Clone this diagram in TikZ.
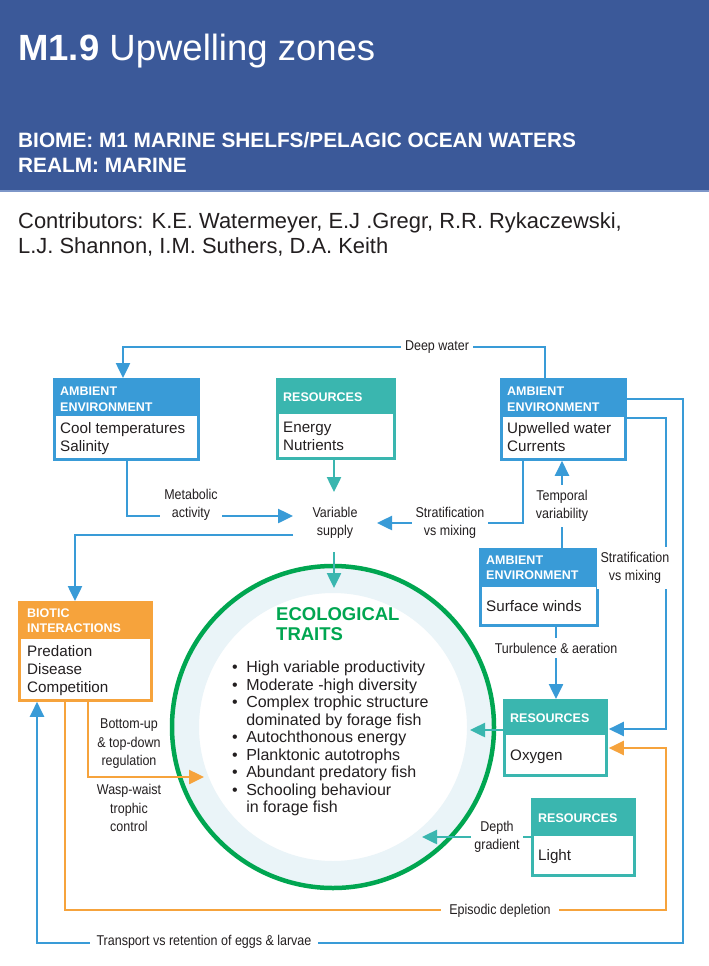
\documentclass[tikz,border=0pt]{standalone}
\usepackage{fontspec}
\setmainfont{Liberation Sans}
\newfontfamily\cond[FakeStretch=0.88]{Liberation Sans}
\usetikzlibrary{arrows.meta,calc}
\definecolor{hdr}{RGB}{59,89,153}
\definecolor{hdrline}{RGB}{125,150,200}
\definecolor{cblue}{RGB}{57,155,215}
\definecolor{cteal}{RGB}{58,182,175}
\definecolor{corange}{RGB}{246,163,60}
\definecolor{cgreen}{RGB}{0,166,81}
\definecolor{cband}{RGB}{234,244,248}
\definecolor{ink}{RGB}{35,31,32}
\newcommand\mkbox[7]{%
  \fill[#2] (#3,#4) rectangle (#5,#7);
  \node[boxframe,draw=#2,minimum width=#5-#3,minimum height=#6-#4] (#1) at (#3,#4) {};}
\begin{document}
\begin{tikzpicture}[x=1pt,y=-1pt,
  conn/.style={line width=2.5pt,line join=miter},
  arr/.style={conn,-{Triangle[length=15pt,width=14pt]}},
  boxframe/.style={line width=2.8pt,inner sep=0pt,anchor=north west},
  hd/.style={anchor=base west,inner sep=0pt,text=white,font=\bfseries\fontsize{12.5}{16}\selectfont},
  bd/.style={anchor=base west,inner sep=0pt,text=ink,font=\fontsize{15.2}{18}\selectfont},
  lab/.style={font=\cond\fontsize{14.2}{18}\selectfont,text=ink,align=center,fill=white,inner xsep=4pt,inner ysep=5pt},
  labnf/.style={font=\cond\fontsize{14.2}{18.5}\selectfont,text=ink,align=center,inner sep=0pt},
]
\useasboundingbox (0,0) rectangle (709,966);
\fill[white] (0,0) rectangle (709,966);

% ---------- header ----------
\fill[hdr] (0,0) rectangle (709,191);
\draw[hdrline,line width=1.5pt] (0,191) -- (709,191);
\node[anchor=base west,inner sep=0pt,text=white,font=\fontsize{36.5}{40}\selectfont] (title) at (18,60) {\textbf{M1.9} Upwelling zones};
\node[anchor=base west,inner sep=0pt,text=white,font=\bfseries\fontsize{20.8}{24}\selectfont] (biome) at (18,147) {BIOME: M1 MARINE SHELFS/PELAGIC OCEAN WATERS};
\node[anchor=base west,inner sep=0pt,text=white,font=\bfseries\fontsize{20.8}{24}\selectfont] (realm) at (18,172) {REALM: MARINE};
\node[anchor=base west,inner sep=0pt,text=ink,font=\fontsize{21.9}{25}\selectfont] (contrib1) at (18,228) {Contributors: K.E. Watermeyer, E.J .Gregr, R.R. Rykaczewski,};
\node[anchor=base west,inner sep=0pt,text=ink,font=\fontsize{21.9}{25}\selectfont] (contrib2) at (18,253) {L.J. Shannon, I.M. Suthers, D.A. Keith};

% ---------- central circle ----------
\fill[cband,even odd rule] (333,727) circle (159) (333,727) circle (134);
\node[circle,draw=cgreen,line width=4.5pt,minimum size=322pt,inner sep=0pt] (eco) at (333,727) {};
\node[anchor=base west,inner sep=0pt,text=cgreen,font=\bfseries\fontsize{18.5}{20}\selectfont] (ecot1) at (276,620) {ECOLOGICAL};
\node[anchor=base west,inner sep=0pt,text=cgreen,font=\bfseries\fontsize{18.5}{20}\selectfont] (ecot2) at (276,640) {TRAITS};
\node[anchor=north west,inner sep=0pt,text=ink,font=\fontsize{16}{17.5}\selectfont] (traits) at (232,660.5) {%
\begin{tabular}{@{}l@{\hspace{8.5pt}}l@{}}
\textbullet & High variable productivity\\
\textbullet & Moderate -high diversity\\
\textbullet & Complex trophic structure\\
 & dominated by forage fish\\
\textbullet & Autochthonous energy\\
\textbullet & Planktonic autotrophs\\
\textbullet & Abundant predatory fish\\
\textbullet & Schooling behaviour\\
 & in forage fish
\end{tabular}};
\coordinate (ecoN) at (334,588);
\coordinate (ecoW) at (204,777);
\coordinate (ecoE) at (470,730);
\coordinate (ecoSE) at (422,837);

% ---------- boxes ----------
\mkbox{ae1}{cblue}{53}{378}{197}{458}{416}
\node[hd] (ae1h1) at (60,395) {AMBIENT};
\node[hd] (ae1h2) at (60,411) {ENVIRONMENT};
\node[bd] (ae1b1) at (60,433) {Cool temperatures};
\node[bd] (ae1b2) at (60,451) {Salinity};

\mkbox{r1}{cteal}{276}{378}{393}{457}{414}
\node[hd] (r1h) at (283,401.5) {RESOURCES};
\node[bd] (r1b1) at (283,432) {Energy};
\node[bd] (r1b2) at (283,450) {Nutrients};

\mkbox{ae2}{cblue}{500}{378}{624}{458}{417}
\node[hd] (ae2h1) at (507,395) {AMBIENT};
\node[hd] (ae2h2) at (507,411) {ENVIRONMENT};
\node[bd] (ae2b1) at (507,433) {Upwelled water};
\node[bd] (ae2b2) at (507,451) {Currents};

\mkbox{ae3}{cblue}{479}{548}{596}{624}{587}
\node[hd] (ae3h1) at (486,564.5) {AMBIENT};
\node[hd] (ae3h2) at (486,579.5) {ENVIRONMENT};
\node[bd] (ae3b1) at (486,611) {Surface winds};

\mkbox{bi}{corange}{18}{601}{150}{699}{639}
\node[hd] (bih1) at (27,617.5) {BIOTIC};
\node[hd] (bih2) at (27,632.5) {INTERACTIONS};
\node[bd] (bib1) at (27,656) {Predation};
\node[bd] (bib2) at (27,674) {Disease};
\node[bd] (bib3) at (27,692.5) {Competition};

\mkbox{r2}{cteal}{503}{699}{605}{774}{735}
\node[hd] (r2h) at (510,722.5) {RESOURCES};
\node[bd] (r2b) at (510,760) {Oxygen};

\mkbox{r3}{cteal}{531}{798}{633}{874}{836}
\node[hd] (r3h) at (538,822.5) {RESOURCES};
\node[bd] (r3b) at (538,860) {Light};

% ---------- variable supply ----------
\node[labnf,font=\cond\fontsize{14.2}{18}\selectfont] (vs) at (335,523) {Variable\\supply};
\coordinate (vsW) at (293,516);
\coordinate (vsE) at (377,523);
\coordinate (vsN) at (334,492);
\coordinate (vsS) at (334,552);
\coordinate (vsSW) at (293,535);

% ---------- connectors ----------
% deep water
\draw[arr,cblue] ($(ae2.north west)+(45,0)$) |- (123,347) -- ($(ae1.north west)+(70,0)$);
\node[lab] (dw) at (437,347) {Deep water};
% metabolic activity
\draw[arr,cblue] ($(ae1.south west)+(74,0)$) |- (vsW);
\node[lab] (meta) at (191,505) {Metabolic\\activity};
% energy -> variable supply
\draw[arr,cteal] ($(r1.south west)+(58,0)$) -- (vsN);
% stratification (left)
\draw[arr,cblue] ($(ae2.south west)+(23,0)$) |- (vsE);
\node[lab] (strat1) at (450,523) {Stratification\\vs mixing};
% variable supply -> biotic
\draw[arr,cblue] (vsSW) -| ($(bi.north west)+(57,0)$);
% variable supply -> traits
\draw[arr,cteal] (vsS) -- (ecoN);
% surface winds -> upwelled
\draw[arr,cblue] ($(ae3.north west)+(83,0)$) -- ($(ae2.south west)+(62,0)$);
\node[lab] (temp) at (562,506) {Temporal\\variability};
% surface winds -> oxygen
\draw[arr,cblue] ($(ae3.south west)+(77,0)$) -- ($(r2.north west)+(53,0)$);
\node[lab] (turb) at (556,648) {Turbulence \& aeration};
% upwelled -> oxygen
\draw[arr,cblue] ($(ae2.north east)+(0,40)$) -| (666,729) -- ($(r2.north east)+(1,30)$);
\node[lab] (strat2) at (635,568) {Stratification\\vs mixing};
% upwelled -> biotic (transport)
\draw[arr,cblue] ($(ae2.north east)+(0,21)$) -| (683,943) -| ($(bi.south west)+(19,0)$);
\node[lab,inner xsep=7pt] (transp) at (204,942) {Transport vs retention of eggs \& larvae};
% biotic -> oxygen (episodic depletion)
\draw[arr,corange] ($(bi.south west)+(47,0)$) |- (666,910) |- ($(r2.north east)+(1,49)$);
\node[lab,inner xsep=8pt] (epi) at (500,911) {Episodic depletion};
% biotic -> traits
\draw[arr,corange] ($(bi.south west)+(70,0)$) |- (ecoW);
\node[labnf] (bu) at (129,744) {Bottom-up\\\& top-down\\regulation};
\node[labnf] (ww) at (129,808) {Wasp-waist\\trophic\\control};
% oxygen -> traits
\draw[arr,cteal] ($(r2.north west)+(0,31)$) -- (ecoE);
% light -> traits
\draw[arr,cteal] ($(r3.north west)+(0,39)$) -- (ecoSE);
\node[lab,inner xsep=3pt] (depth) at (497,837) {Depth\\gradient};
\end{tikzpicture}
\end{document}
